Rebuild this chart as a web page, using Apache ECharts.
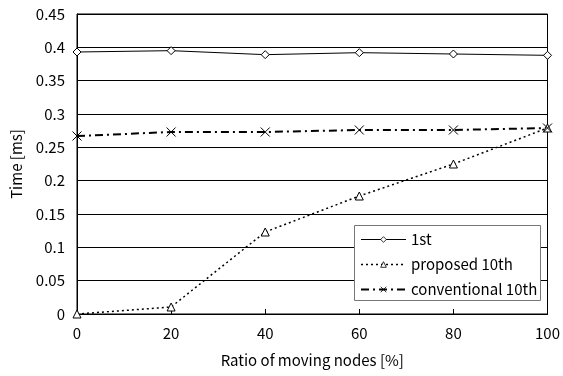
<!DOCTYPE html>
<html>
<head>
    <meta charset="utf-8">
    <title>Time vs ratio</title>
    <script src="https://cdn.jsdelivr.net/npm/echarts@6/dist/echarts.min.js"></script>
</head>
<body style="margin:0;background:#fff;">
<div id="main" style="width:563px;height:376px;"></div>
<script type="text/javascript">
    // data
    const ratios = [0, 20, 40, 60, 80, 100];
    const first = [0.393, 0.395, 0.389, 0.392, 0.390, 0.388];
    const proposed10th = [0.000, 0.0105, 0.123, 0.177, 0.225, 0.279];
    const conventional10th = [0.267, 0.273, 0.273, 0.276, 0.276, 0.279];
    const yTicks = [0, 0.05, 0.1, 0.15, 0.2, 0.25, 0.3, 0.35, 0.4, 0.45];

    const font = '"Noto Sans CJK JP", "DejaVu Sans", sans-serif';
    const crossPath = 'path://M0,0L10,10M10,0L0,10';

    function pairs(vals) {
        return vals.map((v, i) => [ratios[i], v]);
    }

    const markerStyle = { color: '#fff', borderColor: '#000', borderWidth: 0.8 };

    let myChart = echarts.init(document.getElementById('main'));
    myChart.setOption({
        animation: false,
        textStyle: { fontFamily: font, color: '#000' },
        grid: {
            left: 77, right: 13, top: 14, bottom: 62,
            show: true, borderColor: '#000', borderWidth: 1
        },
        // legend frame
        graphic: [{
            type: 'rect', z: 50,
            shape: { x: 354.5, y: 225.5, width: 186, height: 75 },
            style: { fill: '#fff', stroke: '#777', lineWidth: 1 }
        }],
        legend: {
            orient: 'vertical',
            left: 354, top: 225,
            z: 60,
            padding: [7, 6, 4, 6],
            itemGap: 10,
            itemWidth: 45, itemHeight: 7,
            textStyle: { fontFamily: font, fontSize: 15, lineHeight: 15, color: '#000' },
            data: [
                { name: '1st', lineStyle: { width: 1 }, itemStyle: markerStyle },
                { name: 'proposed 10th', lineStyle: { width: 1.5 }, itemStyle: markerStyle },
                { name: 'conventional 10th', lineStyle: { width: 2 },
                  itemStyle: { color: 'none', borderColor: '#000', borderWidth: 0.8 } }
            ]
        },
        xAxis: {
            type: 'value',
            min: 0, max: 100, interval: 20,
            name: 'Ratio of moving nodes [%]',
            nameLocation: 'middle', nameGap: 39,
            nameTextStyle: { fontSize: 15, fontFamily: font },
            axisLine: { lineStyle: { color: '#000' } },
            axisTick: { inside: true, length: 5, lineStyle: { color: '#000' } },
            axisLabel: { fontSize: 15, color: '#000', margin: 12 },
            splitLine: { show: false }
        },
        yAxis: {
            type: 'value',
            min: 0, max: 0.45, interval: 0.05,
            name: 'Time [ms]',
            nameLocation: 'middle', nameGap: 53,
            nameTextStyle: { fontSize: 15, fontFamily: font },
            axisLine: { show: true, lineStyle: { color: '#000' } },
            axisTick: { show: false },
            axisLabel: {
                fontSize: 15, color: '#000', margin: 12,
                formatter: v => {
                    const t = yTicks.find(x => Math.abs(x - v) < 1e-9);
                    return t === undefined ? '' : String(t);
                }
            },
            splitLine: { show: true, lineStyle: { color: '#000', width: 1 } }
        },
        series: [
            {
                name: '1st', type: 'line', data: pairs(first),
                symbol: 'diamond', symbolSize: 8,
                lineStyle: { color: '#000', width: 1 },
                itemStyle: { color: '#fff', borderColor: '#000', borderWidth: 1 }
            },
            {
                name: 'proposed 10th', type: 'line', data: pairs(proposed10th),
                symbol: 'triangle', symbolSize: 8,
                lineStyle: { color: '#000', width: 1.5, type: [2, 3] },
                itemStyle: { color: '#fff', borderColor: '#000', borderWidth: 1 }
            },
            {
                name: 'conventional 10th', type: 'line', data: pairs(conventional10th),
                symbol: crossPath, symbolSize: 9,
                lineStyle: { color: '#000', width: 2, type: [8, 4, 2, 4] },
                itemStyle: { color: 'none', borderColor: '#000', borderWidth: 1 }
            }
        ]
    });
</script>
</body>
</html>
